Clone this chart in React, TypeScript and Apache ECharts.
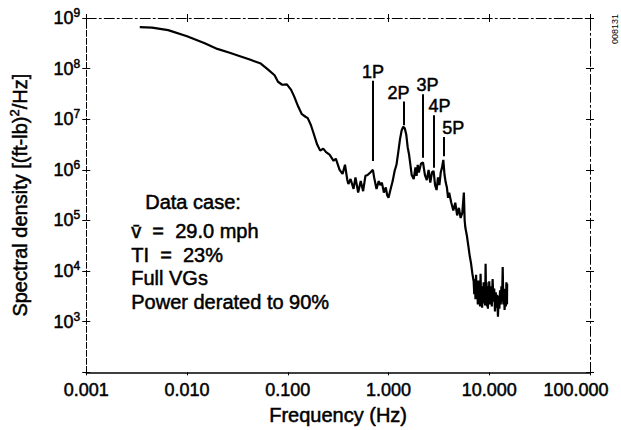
import React, { useEffect, useRef } from "react";
import * as echarts from "echarts";

const FONT = "'Liberation Sans', Arial, Helvetica, sans-serif";

// Frequency (Hz) of each read point
const freq = [
  0.0034, 0.0045, 0.0065, 0.010, 0.015, 0.020, 0.027, 0.033, 0.042, 0.054, 0.063, 0.074, 0.080, 0.088, 0.098,
  0.108, 0.116, 0.127, 0.138, 0.150, 0.158, 0.170, 0.182, 0.196, 0.21, 0.225, 0.24,
  0.26, 0.285, 0.30, 0.327, 0.35, 0.37, 0.39, 0.40, 0.42, 0.45, 0.47, 0.50, 0.53, 0.56, 0.59, 0.62, 0.66, 0.70,
  0.72, 0.76, 0.80, 0.83, 0.86, 0.90, 0.94, 0.97, 1.0, 1.05, 1.1, 1.15, 1.2, 1.25, 1.3, 1.35, 1.4, 1.45, 1.5, 1.55, 1.6, 1.65, 1.7,
  1.78, 1.85, 1.9, 1.95, 2.0, 2.1, 2.2, 2.3, 2.4, 2.5, 2.6, 2.7, 2.8, 2.9, 3.0, 3.1, 3.2, 3.3, 3.4, 3.5,
  3.6, 3.7, 3.8, 3.9, 4.0, 4.2, 4.4, 4.6, 4.8, 5.0, 5.2, 5.4, 5.6, 5.7, 5.8, 6.0, 6.2, 6.4, 6.6, 6.8,
  7.0, 7.1, 7.2, 7.3, 7.4, 7.5, 7.6, 7.7, 7.8, 7.9, 8.0, 8.1, 8.2, 8.3, 8.4, 8.5, 8.6, 8.7, 8.8, 8.9,
  9.0, 9.1, 9.2, 9.3, 9.4, 9.5, 9.6, 9.7, 9.8, 9.9, 10.0, 10.2, 10.4, 10.6, 10.8, 11.0, 11.2, 11.4, 11.6, 11.8,
  12.0, 12.2, 12.4, 12.6, 12.8, 13.0, 13.2, 13.4, 13.6, 13.8, 14.0, 14.2, 14.4, 14.6, 14.8, 15.0, 15.05,
];

// Spectral density [(ft-lb)^2/Hz] at each frequency
const density = [
  6.6e8, 6.46e8, 5.75e8, 4.37e8, 3.16e8, 2.45e8, 2.04e8, 1.78e8, 1.51e8, 1.26e8, 9.8e7, 7.4e7, 5.5e7, 4.8e7, 4.9e7,
  3.8e7, 2.8e7, 1.78e7, 1.26e7, 1.12e7, 1.05e7, 7.6e6, 5.0e6, 3.16e6, 2.4e6, 2.63e6, 2.24e6,
  2.0e6, 1.51e6, 1.66e6, 1.0e6, 8.3e5, 1.26e6, 6.3e5, 5.25e5, 6.6e5, 4.2e5, 7.1e5, 3.55e5, 6.0e5, 3.8e5, 7.6e5, 7.9e5, 8.9e5, 1.0e6,
  7.1e5, 4.2e5, 6.0e5, 5.0e5, 5.6e5, 3.55e5, 4.5e5, 3.16e5, 2.8e5, 4.2e5, 6.0e5, 9.5e5, 1.26e6, 2.24e6, 4.0e6, 6.0e6, 7.1e6, 6.6e6, 5.0e6, 2.8e6, 2.0e6, 1.26e6, 7.9e5,
  6.6e5, 1.12e6, 7.6e5, 1.26e6, 8.9e5, 1.32e6, 1.41e6, 7.9e5, 6.3e5, 1.0e6, 5.6e5, 8.9e5, 9.5e5, 5.0e5, 4.0e5, 7.1e5, 5.0e5, 8.9e5, 1.12e6, 1.58e6,
  7.9e5, 5.6e5, 4.5e5, 2.8e5, 3.55e5, 2.24e5, 1.58e5, 2.24e5, 1.26e5, 1.78e5, 1.12e5, 1.41e5, 3.55e5, 1.0e5, 7.1e4, 5.0e4, 3.16e4, 2.0e4, 1.41e4, 8.9e3,
  6.3e3, 3.5e3, 7.0e3, 2.8e3, 8.5e3, 3.2e3, 5.5e3, 2.2e3, 6.5e3, 2.6e3, 4.8e3, 2.0e3, 8.9e3, 3.0e3, 5.0e3, 1.9e3, 4.2e3, 2.3e3, 6.0e3, 2.6e3,
  4.5e3, 2.1e3, 1.4e4, 3.0e3, 6.0e3, 2.0e3, 4.5e3, 1.8e3, 5.0e3, 2.4e3, 6.3e3, 2.2e3, 5.0e3, 2.0e3, 7.0e3, 2.5e3, 4.5e3, 1.6e3, 3.8e3, 1.9e3,
  3.4e3, 1.26e3, 3.2e3, 1.8e3, 4.2e3, 2.2e3, 5.0e3, 2.5e3, 1.2e4, 2.2e3, 4.5e3, 1.7e3, 4.0e3, 2.0e3, 6.0e3, 2.2e3, 5.6e3,
];

// Harmonic markers: label, frequency, line bottom, line top
const harmonicLabels = ["1P", "2P", "3P", "4P", "5P"];
const harmonicFreq = [0.70, 1.41, 2.17, 2.8, 3.5];
const harmonicLow = [1.5e6, 7.6e6, 1.74e6, 1.1e6, 1.86e6];
const harmonicHigh = [5.75e7, 2.24e7, 3.1e7, 1.2e7, 4.47e6];
const harmonicLabelShift = [0, -5, 5, 6, 10];

const xTickLabels = ["0.001", "0.010", "0.100", "1.000", "10.000", "100.000"];

const noteTitle = "Data case:";
const noteLines = ["v\u0304\u00a0 =\u00a0 29.0 mph", "TI\u00a0 =\u00a0 23%", "Full VGs", "Power derated to 90%"];

const heavy = { textBorderColor: "#000", textBorderWidth: 0.5 };

export default function App() {
  const ref = useRef<HTMLDivElement>(null);

  useEffect(() => {
    document.body.style.margin = "0";
    if (!ref.current) return;
    const chart = echarts.init(ref.current, undefined, { renderer: "svg" });

    const xBase = { type: "log", logBase: 10, min: 0.001, max: 100, splitNumber: 5, splitLine: { show: false }, minorTick: { show: false } };
    const yBase = { type: "log", logBase: 10, min: 100, max: 1e9, splitNumber: 7, splitLine: { show: false }, minorTick: { show: false } };
    const dashed = { color: "#000", width: 1, type: [10, 3, 2, 3] };

    const option: any = {
      animation: false,
      backgroundColor: "#fff",
      grid: { left: 84, right: 31, top: 18, bottom: 56 },
      xAxis: [
        {
          ...xBase,
          position: "bottom",
          axisLine: { onZero: false, lineStyle: { color: "#000", width: 1.5 } },
          axisTick: { show: true, length: 3, lineStyle: { color: "#000" } },
          axisLabel: {
            margin: 9,
            color: "#000",
            fontFamily: FONT,
            fontSize: 18,
            ...heavy,
            formatter: (v: number) => {
              const i = Math.round(Math.log10(v)) + 3;
              const t = xTickLabels[i] ?? "";
              return i === xTickLabels.length - 1 ? `{last|${t}}` : t;
            },
            rich: { last: { fontFamily: FONT, fontSize: 18, color: "#000", ...heavy, padding: [0, 28, 0, 0] } },
          },
          name: "Frequency (Hz)",
          nameLocation: "middle",
          nameGap: 32,
          nameTextStyle: { color: "#000", fontFamily: FONT, fontSize: 20, ...heavy },
        },
        {
          ...xBase,
          position: "top",
          axisLine: { onZero: false, lineStyle: dashed },
          axisTick: { show: true, inside: true, length: 4, lineStyle: { color: "#000" } },
          axisLabel: { show: false },
        },
        {
          ...xBase,
          position: "top",
          axisLine: { show: false, onZero: false },
          axisTick: { show: true, inside: false, length: 4, lineStyle: { color: "#000" } },
          axisLabel: { show: false },
        },
      ],
      yAxis: [
        {
          ...yBase,
          position: "left",
          axisLine: { onZero: false, lineStyle: { color: "#000", width: 1, type: [6, 2] } },
          axisTick: { show: true, inside: false, length: 4, lineStyle: { color: "#000" } },
          axisLabel: {
            margin: 6,
            color: "#000",
            formatter: (v: number) => {
              const e = Math.round(Math.log10(v));
              if (e < 3) return "";
              return `{b|10}{s|${e}}`;
            },
            rich: {
              b: { fontFamily: FONT, fontSize: 18, color: "#000", lineHeight: 20, ...heavy },
              s: { fontFamily: FONT, fontSize: 12, color: "#000", lineHeight: 20, padding: [0, 0, 10, 0], ...heavy },
            },
          },
          name: "Spectral density [(ft-lb){sup|2}/Hz]",
          nameLocation: "middle",
          nameGap: 55,
          nameTextStyle: {
            color: "#000",
            fontFamily: FONT,
            fontSize: 20,
            ...heavy,
            rich: { sup: { fontFamily: FONT, fontSize: 13, color: "#000", padding: [0, 0, 10, 0], ...heavy } },
          },
        },
        {
          ...yBase,
          position: "left",
          axisLine: { show: false, onZero: false },
          axisTick: { show: true, inside: true, length: 4, lineStyle: { color: "#000" } },
          axisLabel: { show: false },
        },
        {
          ...yBase,
          position: "right",
          axisLine: { onZero: false, lineStyle: dashed },
          axisTick: { show: true, inside: true, length: 4, lineStyle: { color: "#000" } },
          axisLabel: { show: false },
        },
        {
          ...yBase,
          position: "right",
          axisLine: { show: false, onZero: false },
          axisTick: { show: true, inside: false, length: 4, lineStyle: { color: "#000" } },
          axisLabel: { show: false },
        },
      ],
      series: [
        {
          type: "line",
          xAxisIndex: 0,
          yAxisIndex: 0,
          showSymbol: false,
          symbol: "none",
          lineStyle: { color: "#000", width: 2.2 },
          data: freq.map((f, i) => [f, density[i]]),
          markLine: {
            silent: true,
            symbol: ["none", "none"],
            animation: false,
            lineStyle: { color: "#000", width: 2, type: "solid" },
            label: {
              show: true,
              position: "end",
              distance: 3,
              color: "#000",
              fontFamily: FONT,
              fontSize: 18,
              ...heavy,
              formatter: (p: any) => p.name,
            },
            data: harmonicLabels.map((name, i) => [
              { name, coord: [harmonicFreq[i], harmonicLow[i]] },
              { coord: [harmonicFreq[i], harmonicHigh[i]], label: { offset: [harmonicLabelShift[i], 3] } },
            ]),
          },
        },
      ],
      graphic: [
        {
          type: "text",
          left: 145,
          top: 192,
          style: { text: noteTitle, font: `20px ${FONT}`, fill: "#000", stroke: "#000", lineWidth: 0.5 },
        },
        ...noteLines.map((t, i) => ({
          type: "text",
          left: 131,
          top: 221 + i * 23.6,
          style: { text: t, font: `20px ${FONT}`, fill: "#000", stroke: "#000", lineWidth: 0.5 },
        })),
        {
          type: "text",
          x: 610,
          y: 44,
          rotation: Math.PI / 2,
          style: { text: "008131", font: `9px ${FONT}`, fill: "#000" },
        },
      ],
    };

    chart.setOption(option);
    return () => chart.dispose();
  }, []);

  return <div ref={ref} style={{ width: 621, height: 430 }} />;
}
